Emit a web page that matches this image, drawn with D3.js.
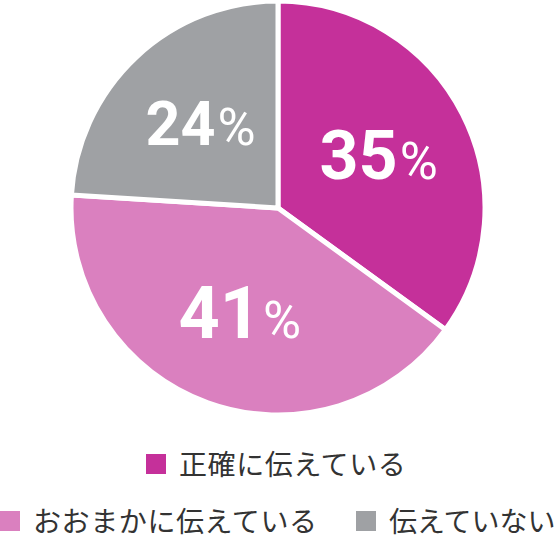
<!DOCTYPE html>
<html>
<head>
<meta charset="utf-8">
<script src="https://cdn.jsdelivr.net/npm/d3@7"></script>
<style>
  body { margin: 0; background: #fff; }
  svg { display: block; }
</style>
</head>
<body>
<div id="chart"></div>
<script>
// data
const categories = ["正確に伝えている", "おおまかに伝えている", "伝えていない"]
const values = [35, 41, 24]
const colors = ["#c5309a", "#da80bf", "#9fa1a4"]

const width = 558
const height = 540
const cx = 278, cy = 208
const radius = 207

const svg = d3.select("#chart")
    .append("svg")
    .attr("width", width)
    .attr("height", height)

const g = svg.append("g")
    .attr("transform", "translate(" + cx + "," + cy + ")")

const pie = d3.pie().sort(null).value(d => d.value)
const data_ready = pie(values.map((v, i) => ({ key: categories[i], value: v, color: colors[i] })))

const arc = d3.arc().innerRadius(0).outerRadius(radius)
const labelArc = d3.arc().innerRadius(113).outerRadius(113)

g.selectAll("path")
    .data(data_ready)
    .enter().append("path")
    .attr("d", arc)
    .attr("fill", d => d.data.color)
    .attr("stroke", "white")
    .style("stroke-width", "5px")
    .style("stroke-linejoin", "miter")

// bigger slice -> bigger number
const fontSize = d3.scaleLinear().domain([24, 41]).range([61, 72])

const labels = g.selectAll("text.pct")
    .data(data_ready)
    .enter().append("text")
    .attr("class", "pct")
    .attr("text-anchor", "middle")
    .attr("fill", "white")
    .attr("font-family", "Roboto, 'Liberation Sans', sans-serif")
    .attr("x", d => labelArc.centroid(d)[0])
    .attr("y", d => labelArc.centroid(d)[1] + fontSize(d.data.value) * 0.355 - 2)

labels.append("tspan")
    .attr("font-weight", "bold")
    .attr("font-size", d => fontSize(d.data.value))
    .text(d => d.data.value)

labels.append("tspan")
    .attr("dx", 2)
    .attr("font-size", 52)
    .text("%")

// legend
const legendRows = [
    [{ i: 0, x: 146 }],
    [{ i: 1, x: 0 }, { i: 2, x: 356 }]
]
const rowY = [454, 511]

legendRows.forEach((row, r) => {
    row.forEach(item => {
        const lg = svg.append("g")
            .attr("transform", "translate(" + item.x + "," + rowY[r] + ")")
        lg.append("rect")
            .attr("width", 20)
            .attr("height", 20)
            .attr("fill", colors[item.i])
        lg.append("text")
            .attr("x", 33)
            .attr("y", 21)
            .attr("font-family", "'Noto Sans CJK JP', sans-serif")
            .attr("font-size", 28)
            .attr("letter-spacing", item.i === 2 ? 0 : 0.6)
            .attr("fill", "#333")
            .text(categories[item.i])
    })
})
</script>
</body>
</html>
